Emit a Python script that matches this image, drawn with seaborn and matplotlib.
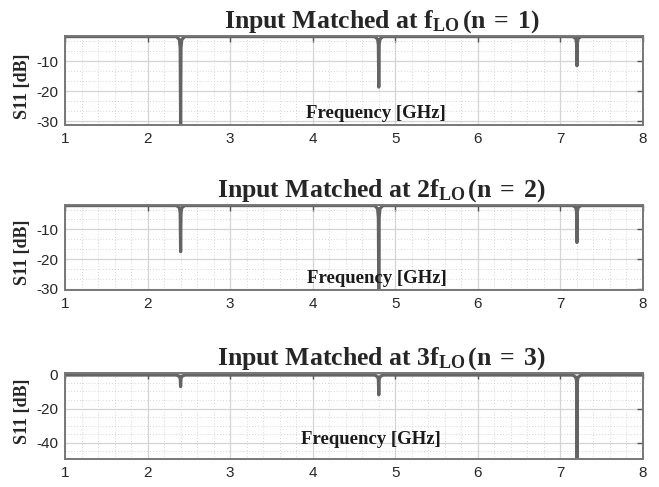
import matplotlib
matplotlib.use("Agg")
import matplotlib.pyplot as plt
from matplotlib.ticker import AutoMinorLocator
import seaborn as sns
import pandas as pd

# ---------------- data ----------------
freq_ghz = [1.0, 2.35, 2.385, 2.395, 2.4, 2.405, 2.415, 2.45,
            4.75, 4.785, 4.795, 4.8, 4.805, 4.815, 4.85,
            7.15, 7.185, 7.195, 7.2, 7.205, 7.215, 7.25, 8.0]

s11_n1 = [-1.8, -1.8, -2.8, -5.5, -32.0, -5.5, -2.8, -1.8,
          -1.8, -2.6, -4.5, -18.6, -4.5, -2.6, -1.8,
          -1.8, -2.4, -4.0, -11.5, -4.0, -2.4, -1.8, -1.8]

s11_n2 = [-2.0, -2.0, -2.7, -4.5, -17.5, -4.5, -2.7, -2.0,
          -2.0, -3.0, -6.0, -32.0, -6.0, -3.0, -2.0,
          -2.0, -2.6, -4.0, -14.4, -4.0, -2.6, -2.0, -2.0]

s11_n3 = [-0.4, -0.4, -1.2, -2.5, -7.2, -2.5, -1.2, -0.4,
          -0.4, -1.4, -3.0, -12.0, -3.0, -1.4, -0.4,
          -0.4, -1.6, -4.0, -49.0, -4.0, -1.6, -0.4, -0.4]

titles = [r"Input Matched at $\mathbf{f_{LO}\,(n\;=\;1)}$",
          r"Input Matched at $\mathbf{2f_{LO}\,(n\;=\;2)}$",
          r"Input Matched at $\mathbf{3f_{LO}\,(n\;=\;3)}$"]
x_ticks = [1, 2, 3, 4, 5, 6, 7, 8]
y_ticks = [[-10, -20, -30], [-10, -20, -30], [0, -20, -40]]
y_limits = [(-31.2, -1.6), (-30.4, -1.8), (-49.5, 0.8)]
x_label = "Frequency [GHz]"
y_label = "S11 [dB]"

# ---------------- style ----------------
sns.set_style("white")
plt.rcParams["font.family"] = ["Liberation Sans", "DejaVu Sans"]
plt.rcParams["axes.unicode_minus"] = False
plt.rcParams["mathtext.fontset"] = "custom"
plt.rcParams["mathtext.rm"] = "Liberation Serif"
plt.rcParams["mathtext.bf"] = "Liberation Serif:bold"
plt.rcParams["mathtext.it"] = "Liberation Serif:italic"

fig = plt.figure(figsize=(6.59, 4.87), dpi=100)
W, H = 659, 487
boxes = [(65, 36, 643, 125), (65, 205, 643, 290), (65, 373, 643, 459)]
label_pos = [(0.538, 0.125), (0.54, 0.13), (0.53, 0.23)]
ylab_y = [0.43, 0.45, 0.55]
minor_y = [3, 3, 4]

line_color = "#646464"
series = [s11_n1, s11_n2, s11_n3]

for i, (l, t, r, b) in enumerate(boxes):
    ax = fig.add_axes([l / W, 1 - b / H, (r - l) / W, (b - t) / H])
    df = pd.DataFrame({"f": freq_ghz, "s11": series[i]})
    sns.lineplot(data=df, x="f", y="s11", ax=ax, color=line_color,
                 linewidth=2.3, estimator=None, sort=False)
    ax.set_xlim(1, 8)
    ax.set_ylim(*y_limits[i])
    ax.set_xticks(x_ticks)
    ax.set_yticks(y_ticks[i])
    ax.xaxis.set_minor_locator(AutoMinorLocator(5))
    ax.yaxis.set_minor_locator(AutoMinorLocator(minor_y[i]))
    ax.grid(which="major", color="#d4d4d4", linewidth=0.9)
    ax.grid(which="minor", color="#c8c8c8", linewidth=0.6, linestyle=(0, (1, 2.5)))
    ax.set_axisbelow(True)
    ax.tick_params(which="major", direction="in", length=4, width=1,
                   top=True, right=True, labelsize=11, labelcolor="#262626",
                   color="#555555", pad=5)
    ax.tick_params(which="minor", length=0)
    for sp in ax.spines.values():
        sp.set_color("#777777")
        sp.set_linewidth(1.4)
    ax.set_xlabel("")
    ax.set_ylabel(y_label, fontsize=13, fontweight="bold", family="Liberation Serif")
    ax.yaxis.set_label_coords(-0.059, ylab_y[i])
    ax.text(label_pos[i][0], label_pos[i][1], x_label, transform=ax.transAxes,
            ha="center", va="center", fontsize=13.5, fontweight="bold",
            family="Liberation Serif", color="#1a1a1a")
    ax.set_title(titles[i], fontsize=18.5, fontweight="bold",
                 family="Liberation Serif", x=0.548, pad=6)

fig.savefig("out.png", dpi=100)
